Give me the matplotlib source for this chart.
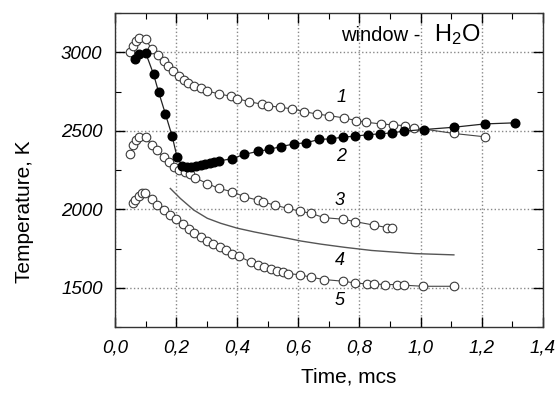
import matplotlib
matplotlib.use("Agg")
import matplotlib.pyplot as plt
from matplotlib.ticker import MultipleLocator, FuncFormatter

plt.rcParams['font.family'] = ['Liberation Sans', 'DejaVu Sans']
plt.rcParams['mathtext.fontset'] = 'custom'
plt.rcParams['mathtext.rm'] = 'Liberation Sans'

# curve 1 (open circles)
t1 = [0.05, 0.06, 0.07, 0.08, 0.10, 0.12, 0.14, 0.16, 0.175, 0.19, 0.21, 0.225, 0.24,
      0.26, 0.28, 0.30, 0.34, 0.38, 0.40, 0.44, 0.48, 0.50, 0.54, 0.58, 0.62, 0.66,
      0.70, 0.75, 0.79, 0.82, 0.87, 0.91, 0.95, 0.98, 1.11, 1.21]
T1 = [3000, 3040, 3070, 3090, 3085, 3020, 2985, 2945, 2915, 2880, 2850, 2825, 2805,
      2785, 2770, 2755, 2735, 2720, 2705, 2685, 2670, 2660, 2650, 2640, 2622, 2607,
      2597, 2582, 2565, 2555, 2544, 2538, 2533, 2520, 2483, 2462]

# curve 2 (filled circles)
t2 = [0.065, 0.08, 0.10, 0.126, 0.143, 0.165, 0.187, 0.203, 0.22, 0.235, 0.25, 0.265,
      0.28, 0.295, 0.31, 0.325, 0.34, 0.384, 0.423, 0.467, 0.505, 0.544, 0.587, 0.626,
      0.667, 0.706, 0.747, 0.785, 0.827, 0.868, 0.906, 0.945, 1.01, 1.11, 1.21, 1.31]
T2 = [2960, 2987, 2998, 2861, 2745, 2607, 2466, 2333, 2275, 2268, 2270, 2275,
      2280, 2287, 2295, 2302, 2308, 2323, 2350, 2369, 2382, 2400, 2417, 2424,
      2445, 2449, 2460, 2466, 2475, 2481, 2487, 2498, 2508, 2523, 2544, 2551]

# curve 3 (open circles)
t3 = [0.05, 0.06, 0.07, 0.08, 0.10, 0.12, 0.137, 0.159, 0.176, 0.192, 0.209, 0.23,
      0.247, 0.263, 0.302, 0.34, 0.384, 0.423, 0.467, 0.483, 0.522, 0.566, 0.604,
      0.64, 0.684, 0.747, 0.785, 0.846, 0.89, 0.906]
T3 = [2354, 2407, 2439, 2460, 2460, 2407, 2375, 2333, 2302, 2270, 2249, 2238,
      2228, 2200, 2164, 2133, 2112, 2080, 2059, 2048, 2027, 2006, 1989,
      1975, 1947, 1937, 1922, 1900, 1884, 1884]

# curve 4 (solid line)
t4 = [0.181, 0.214, 0.258, 0.302, 0.346, 0.40, 0.456, 0.511, 0.566, 0.609, 0.675,
      0.752, 0.84, 0.983, 1.109]
T4 = [2133, 2069, 1995, 1943, 1911, 1880, 1856, 1835, 1815, 1798, 1778,
      1758, 1738, 1718, 1710]

# curve 5 (open circles)
t5 = [0.058, 0.066, 0.077, 0.088, 0.099, 0.121, 0.139, 0.159, 0.181, 0.201, 0.223,
      0.242, 0.26, 0.28, 0.302, 0.322, 0.344, 0.362, 0.384, 0.406, 0.445, 0.467,
      0.489, 0.511, 0.53, 0.549, 0.566, 0.604, 0.64, 0.684, 0.747, 0.785, 0.824,
      0.846, 0.884, 0.923, 0.945, 1.008, 1.109]
T5 = [2038, 2059, 2085, 2106, 2106, 2065, 2027, 1995, 1964, 1938, 1905,
      1875, 1848, 1823, 1799, 1778, 1757, 1742, 1717, 1700, 1664, 1647,
      1632, 1620, 1609, 1599, 1590, 1584, 1568, 1553, 1542, 1531, 1525,
      1525, 1521, 1521, 1517, 1510, 1510]

curve_labels = ['1', '2', '3', '4', '5']
label_x = [0.74, 0.74, 0.735, 0.735, 0.735]
label_y = [2715, 2335, 2057, 1677, 1418]

fig = plt.figure(figsize=(5.57, 3.96), dpi=100)
ax = fig.add_axes([0.2065, 0.174, 0.768, 0.793])

open_style = dict(marker='o', ms=6.2, mfc='white', mec='#3a3a3a', mew=0.8,
                  color='#444444', lw=0.8)
ax.plot(t1, T1, **open_style)
ax.plot(t3, T3, **open_style)
ax.plot(t5, T5, **open_style)
ax.plot(t4, T4, color='#555555', lw=1.0)
ax.plot(t2, T2, marker='o', ms=6.2, mfc='black', mec='black', color='#222222', lw=0.9)

for lab, x, y in zip(curve_labels, label_x, label_y):
    ax.text(x, y, lab, fontsize=13, style='italic', ha='center', va='center')

ax.text(0.715, 0.911, 'window -', transform=ax.transAxes, fontsize=14.5,
        ha='right', va='baseline')
ax.text(0.745, 0.911, r'$\mathrm{H_2O}$', transform=ax.transAxes, fontsize=17,
        ha='left', va='baseline')

ax.set_xlim(0, 1.4)
ax.set_ylim(1250, 3250)
ax.xaxis.set_major_locator(MultipleLocator(0.2))
ax.xaxis.set_minor_locator(MultipleLocator(0.1))
ax.yaxis.set_major_locator(MultipleLocator(500))
ax.yaxis.set_minor_locator(MultipleLocator(250))
ax.xaxis.set_major_formatter(FuncFormatter(lambda v, p: f"{v:.1f}".replace('.', ',')))
ax.yaxis.set_major_formatter(FuncFormatter(lambda v, p: f"{v:.0f}"))

ax.tick_params(which='both', direction='in', top=True, right=True, labelsize=13.5, pad=9)
ax.tick_params(which='major', length=7, width=1)
ax.tick_params(which='minor', length=4, width=0.8)
for lbl in ax.get_xticklabels() + ax.get_yticklabels():
    lbl.set_fontstyle('italic')

ax.grid(True, which='major', linestyle=':', color='#888888', lw=1)
for s in ax.spines.values():
    s.set_linewidth(1.0)
    s.set_color('#333333')

ax.set_xlabel('Time, mcs', fontsize=15)
ax.set_ylabel('Temperature, K', fontsize=15)
ax.xaxis.set_label_coords(0.547, -0.13)
ax.yaxis.set_label_coords(-0.19, 0.366)

fig.savefig('out.png', dpi=100)
